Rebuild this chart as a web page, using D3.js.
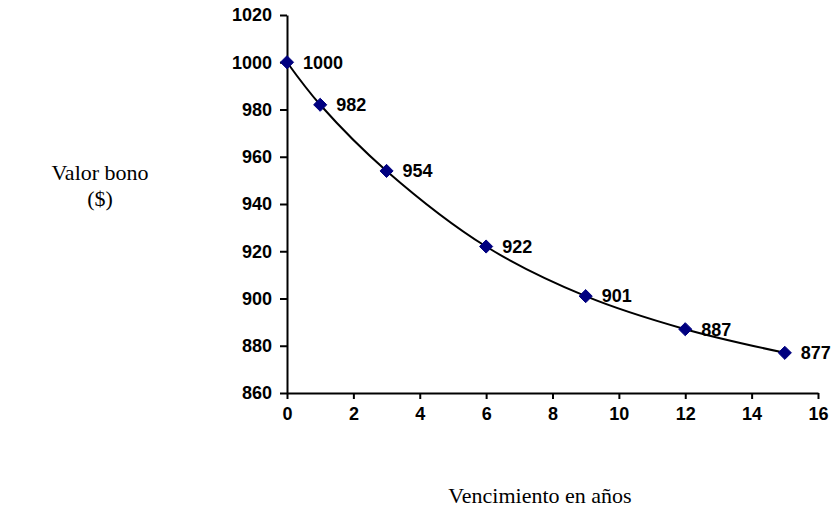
<!DOCTYPE html>
<html>
<head>
<meta charset="utf-8">
<script src="https://cdn.jsdelivr.net/npm/d3@7"></script>
<style>
  body { margin: 0; background: #fff; }
  svg { display: block; }
</style>
</head>
<body>
<div id="chart"></div>
<script>
// years to maturity and bond value
const years = [0, 1, 3, 6, 9, 12, 15];
const bondValues = [1000, 982, 954, 922, 901, 887, 877];
const xTicks = [0, 2, 4, 6, 8, 10, 12, 14, 16];
const yTicks = [860, 880, 900, 920, 940, 960, 980, 1000, 1020];

const width = 834, height = 515;
const margin = {top: 15, right: 16, bottom: 122, left: 287};

const svg = d3.select("#chart")
  .append("svg")
    .attr("width", width)
    .attr("height", height);

const x = d3.scaleLinear().domain([0, 16]).range([margin.left, width - margin.right]);
const y = d3.scaleLinear().domain([860, 1020]).range([height - margin.bottom, margin.top]);

const tickFont = "'Liberation Sans', Arial, sans-serif";

// y axis
const yAxis = svg.append("g")
  .attr("transform", `translate(${margin.left},0)`)
  .call(d3.axisLeft(y).tickValues(yTicks).tickFormat(d3.format("d"))
    .tickSize(7).tickPadding(8).tickSizeOuter(0));

// x axis
const xAxis = svg.append("g")
  .attr("transform", `translate(0,${height - margin.bottom})`)
  .call(d3.axisBottom(x).tickValues(xTicks).tickFormat(d3.format("d"))
    .tickSize(6).tickPadding(8).tickSizeOuter(0));

[yAxis, xAxis].forEach(g => {
  g.selectAll("path, line").attr("stroke", "#000").attr("stroke-width", 2);
  g.selectAll("text")
    .attr("fill", "#000")
    .style("font-family", tickFont)
    .style("font-weight", "bold")
    .style("font-size", "18px");
});

// line
const line = d3.line()
  .x((d, i) => x(years[i]))
  .y(d => y(d))
  .curve(d3.curveCatmullRom.alpha(0.5));

svg.append("path")
  .datum(bondValues)
  .attr("d", line)
  .attr("fill", "none")
  .attr("stroke", "#000")
  .attr("stroke-width", 2);

// diamond markers
svg.selectAll(".pt")
  .data(bondValues)
  .enter()
  .append("path")
    .attr("class", "pt")
    .attr("d", d3.symbol().type(d3.symbolDiamond2).size(110))
    .attr("transform", (d, i) => `translate(${x(years[i])},${y(d)})`)
    .attr("fill", "#000080")
    .attr("stroke", "#000080")
    .attr("stroke-width", 1);

// data labels
svg.selectAll(".lbl")
  .data(bondValues)
  .enter()
  .append("text")
    .attr("x", (d, i) => x(years[i]) + 16)
    .attr("y", d => y(d))
    .attr("dy", "0.35em")
    .style("font-family", tickFont)
    .style("font-weight", "bold")
    .style("font-size", "18px")
    .text(d => d);

// axis titles
const serif = "'Liberation Serif', 'Times New Roman', serif";
const yTitle = svg.append("text")
  .attr("text-anchor", "middle")
  .style("font-family", serif)
  .style("font-size", "22px");
yTitle.append("tspan").attr("x", 100).attr("y", 180).text("Valor bono");
yTitle.append("tspan").attr("x", 100).attr("y", 206).text("($)");

svg.append("text")
  .attr("x", 540)
  .attr("y", 503)
  .attr("text-anchor", "middle")
  .style("font-family", serif)
  .style("font-size", "22px")
  .text("Vencimiento en años");
</script>
</body>
</html>
